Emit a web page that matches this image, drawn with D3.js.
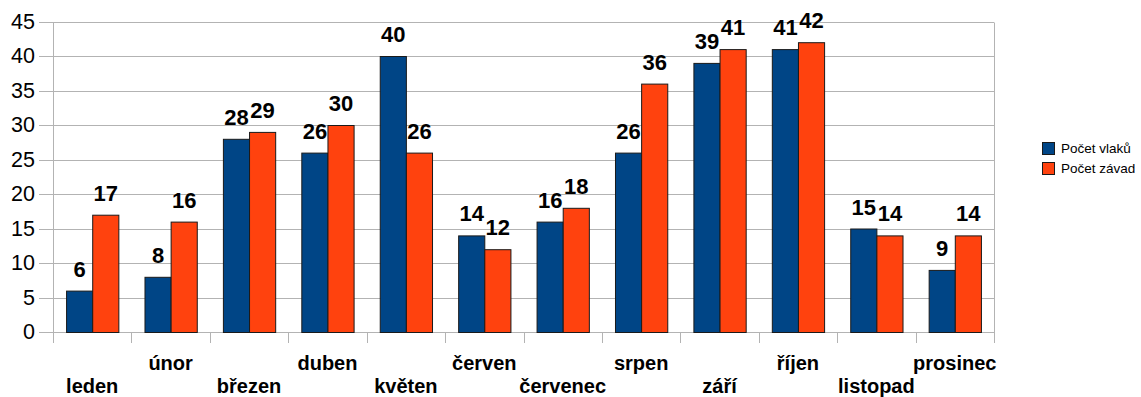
<!DOCTYPE html>
<html>
<head>
<meta charset="utf-8">
<script src="https://cdn.jsdelivr.net/npm/d3@7"></script>
<style>
  html, body { margin: 0; padding: 0; background: #fff; }
  svg { display: block; font-family: "Liberation Sans", Arial, sans-serif; }
</style>
</head>
<body>
<svg id="chart" width="1141" height="397"></svg>
<script>
// Monthly counts: trains vs. recorded faults
const months = ["leden", "únor", "březen", "duben", "květen", "červen",
                "červenec", "srpen", "září", "říjen", "listopad", "prosinec"];
const trains = [6, 8, 28, 26, 40, 14, 16, 26, 39, 41, 15, 9];
const faults = [17, 16, 29, 30, 26, 12, 18, 36, 41, 42, 14, 14];
const seriesNames = ["Počet vlaků", "Počet závad"];
const seriesColors = ["#004586", "#ff420e"];
const yTicks = [0, 5, 10, 15, 20, 25, 30, 35, 40, 45];

const svg = d3.select("#chart");
const plot = { left: 53, right: 994, top: 21.5, bottom: 332 };

const x = d3.scaleBand().domain(months).range([plot.left, plot.right]).padding(0);
const inner = d3.scaleBand().domain([0, 1]).range([0, x.bandwidth()])
  .paddingInner(0).paddingOuter(0.5);
const y = d3.scaleLinear().domain([0, 45]).range([plot.bottom, plot.top]);

// horizontal gridlines with short ticks extending left of the axis
const grid = svg.append("g").attr("stroke", "#b3b3b3").attr("stroke-width", 1);
grid.selectAll("line.h").data(yTicks).join("line")
  .attr("x1", plot.left - 14).attr("x2", plot.right)
  .attr("y1", d => Math.round(y(d)) + 0.5).attr("y2", d => Math.round(y(d)) + 0.5);
// right frame
grid.append("line")
  .attr("x1", plot.right + 0.5).attr("x2", plot.right + 0.5)
  .attr("y1", Math.round(plot.top) + 0.5).attr("y2", Math.round(plot.bottom) + 0.5);
// vertical axis line
grid.append("line")
  .attr("x1", plot.left + 0.5).attr("x2", plot.left + 0.5)
  .attr("y1", Math.round(plot.top) + 0.5).attr("y2", plot.bottom + 11);
// category separators below the axis
const bounds = months.map(m => x(m)).concat([plot.right]);
grid.selectAll("line.c").data(bounds.slice(1)).join("line")
  .attr("x1", d => Math.round(d) + 0.5).attr("x2", d => Math.round(d) + 0.5)
  .attr("y1", plot.bottom).attr("y2", plot.bottom + 11);

// y tick labels
svg.append("g").selectAll("text").data(yTicks).join("text")
  .attr("x", 35).attr("y", d => y(d))
  .attr("text-anchor", "end").attr("dominant-baseline", "central")
  .attr("font-size", "21.5px").attr("fill", "#000")
  .text(d => d);

// bars
const rows = months.map((m, i) => ({ m, vals: [trains[i], faults[i]] }));
const groups = svg.append("g").selectAll("g").data(rows).join("g")
  .attr("transform", d => `translate(${x(d.m)},0)`);
groups.selectAll("rect").data(d => d.vals.map((v, k) => ({ v, k }))).join("rect")
  .attr("x", d => inner(d.k) + 0.5)
  .attr("y", d => y(d.v) + 0.5)
  .attr("width", inner.bandwidth())
  .attr("height", d => y(0) - y(d.v))
  .attr("fill", d => seriesColors[d.k])
  .attr("stroke", "#1a1a1a").attr("stroke-width", 1);

// value labels
groups.selectAll("text").data(d => d.vals.map((v, k) => ({ v, k }))).join("text")
  .attr("x", d => inner(d.k) + inner.bandwidth() / 2 + 0.5)
  .attr("y", d => y(d.v) - 14)
  .attr("text-anchor", "middle")
  .attr("font-size", "22px").attr("font-weight", "bold").attr("fill", "#000")
  .text(d => d.v);

// month labels, staggered on two rows
svg.append("g").selectAll("text").data(months).join("text")
  .attr("x", d => x(d) + x.bandwidth() / 2)
  .attr("y", (d, i) => i % 2 === 0 ? 393 : 370)
  .attr("text-anchor", "middle")
  .attr("font-size", "20px").attr("font-weight", "bold").attr("fill", "#000")
  .text(d => d);

// legend
const legend = svg.append("g").attr("transform", "translate(1042,142)");
const items = legend.selectAll("g").data(seriesNames).join("g")
  .attr("transform", (d, i) => `translate(0,${i * 20})`);
items.append("rect")
  .attr("x", 0.5).attr("y", 0.5).attr("width", 12).attr("height", 12)
  .attr("fill", (d, i) => seriesColors[i])
  .attr("stroke", "#1a1a1a").attr("stroke-width", 1);
items.append("text")
  .attr("x", 19).attr("y", 6.5).attr("dominant-baseline", "central")
  .attr("font-size", "13.5px").attr("fill", "#000")
  .text(d => d);
</script>
</body>
</html>
